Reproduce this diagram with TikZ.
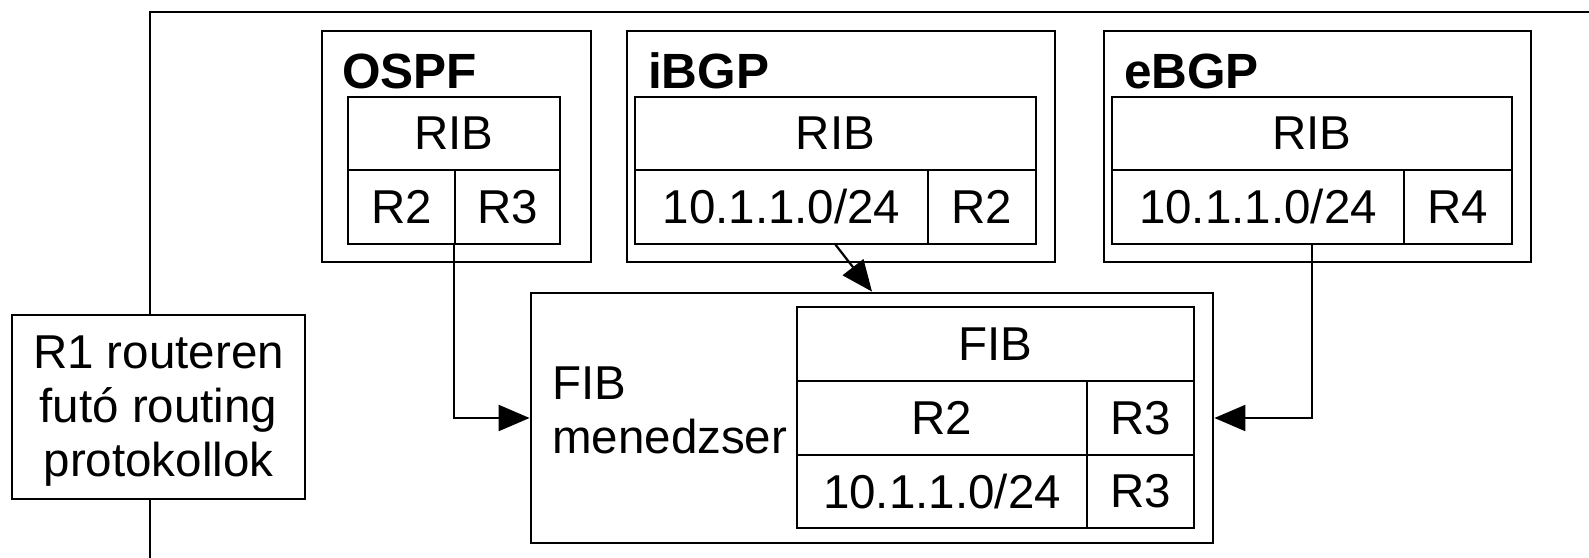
\documentclass[tikz,border=0pt]{standalone}
\usepackage{fontspec}
\setmainfont{Liberation Sans}
\usetikzlibrary{arrows.meta}
\begin{document}
\begin{tikzpicture}[x=1pt,y=-1pt,
  every node/.style={font=\fontsize{47.5}{54}\selectfont},
  box/.style={draw, line width=2.8pt, inner sep=0pt, fill=white},
  cell/.style={draw, line width=1.4pt, inner sep=0pt},
  title/.style={anchor=base west, inner sep=0pt, font=\fontsize{49.5}{56}\selectfont\bfseries},
  conn/.style={line width=2.2pt, -{Triangle[length=31pt,width=26pt]}}]
\useasboundingbox (0,0) rectangle (1589,557);
% outer frame
\draw[line width=2.8pt] (150,570) -- (150,12) -- (1600,12);
% R1 box
\node[box, minimum width=293pt, minimum height=184pt, align=center] (r1) at (158.5,407) {};
\node[align=center, inner sep=0pt] (r1t) at (158.5,411) {R1 routeren\\futó routing\\protokollok};
% OSPF
\node[box, minimum width=269pt, minimum height=231pt] (ospf) at (456.5,146.5) {};
\node[title] (ospft) at (342,88) {OSPF};
\node[cell, minimum width=212pt, minimum height=73pt] (oRIB) at (454,133.5) {RIB};
\node[cell, minimum width=107pt, minimum height=74pt] (oR2) at (401.5,207) {R2};
\node[cell, minimum width=105pt, minimum height=74pt] (oR3) at (507.5,207) {R3};
% iBGP
\node[box, minimum width=428pt, minimum height=231pt] (ibgp) at (841,146.5) {};
\node[title] (ibgpt) at (648,88) {iBGP};
\node[cell, minimum width=401pt, minimum height=73pt] (iRIB) at (835.5,133.5) {RIB};
\node[cell, minimum width=293pt, minimum height=74pt] (iP) at (781.5,207) {10.1.1.0/24};
\node[cell, minimum width=108pt, minimum height=74pt] (iR2) at (982,207) {R2};
% eBGP
\node[box, minimum width=427pt, minimum height=231pt] (ebgp) at (1317.5,146.5) {};
\node[title] (ebgpt) at (1124,88) {eBGP};
\node[cell, minimum width=400pt, minimum height=73pt] (eRIB) at (1312,133.5) {RIB};
\node[cell, minimum width=292pt, minimum height=74pt] (eP) at (1258,207) {10.1.1.0/24};
\node[cell, minimum width=108pt, minimum height=74pt] (eR4) at (1458,207) {R4};
% FIB manager
\node[box, minimum width=682pt, minimum height=250pt] (fibm) at (872,418) {};
\node[anchor=west, align=left, inner sep=0pt] (fibmt) at (552,410) {FIB\\menedzser};
\node[cell, minimum width=397pt, minimum height=74pt] (fHead) at (995.5,344) {FIB};
\node[cell, minimum width=290pt, minimum height=74pt] (fA1) at (942,418) {R2};
\node[cell, minimum width=107pt, minimum height=74pt] (fA2) at (1140.5,418) {R3};
\node[cell, minimum width=290pt, minimum height=73pt] (fB1) at (942,491.5) {10.1.1.0/24};
\node[cell, minimum width=107pt, minimum height=73pt] (fB2) at (1140.5,491.5) {R3};
% connectors
\draw[conn] (oRIB.center |- oR2.south) |- (fibm.west);
\draw[conn] (iRIB.center |- iP.south) -- (fibm.north);
\draw[conn] (eRIB.center |- eP.south) |- (fibm.east);
\end{tikzpicture}
\end{document}
